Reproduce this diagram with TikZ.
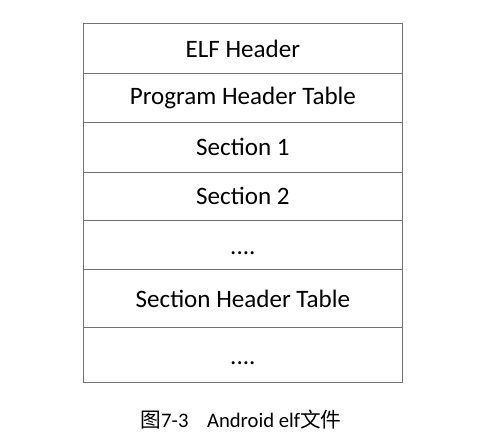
\documentclass[tikz,border=0pt]{standalone}
\usepackage{fontspec}
\setmainfont{Carlito}
\newfontfamily\cjk{Noto Sans CJK SC}
\begin{document}
\begin{tikzpicture}[x=0.75pt,y=-0.75pt,
  cell/.style={draw=black!55,line width=0.6pt,minimum width=319*0.75pt,inner sep=0pt,anchor=north west,font=\fontsize{18.8}{21}\selectfont},
  dots/.style={text height=14pt,text depth=0pt},
  captext/.style={font=\fontsize{15.5}{18}\selectfont}]
\useasboundingbox (0,0) rectangle (480,441);
\node[cell,minimum height=50*0.75pt] (r1) at (83,23) {ELF Header};
\node[cell,minimum height=49*0.75pt] (r2) at (83,73) {Program Header Table};
\node[cell,minimum height=50*0.75pt] (r3) at (83,122) {Section 1};
\node[cell,minimum height=48*0.75pt] (r4) at (83,172) {Section 2};
\node[cell,dots,minimum height=49*0.75pt] (r5) at (83,220) {....};
\node[cell,minimum height=58*0.75pt] (r6) at (83,269) {Section Header Table};
\node[cell,dots,minimum height=55*0.75pt] (r7) at (83,327) {....};
\node[captext] (caption) at (241,420) {{\cjk 图}7-3\hspace{0.9em}Android elf{\cjk 文件}};
\end{tikzpicture}
\end{document}
